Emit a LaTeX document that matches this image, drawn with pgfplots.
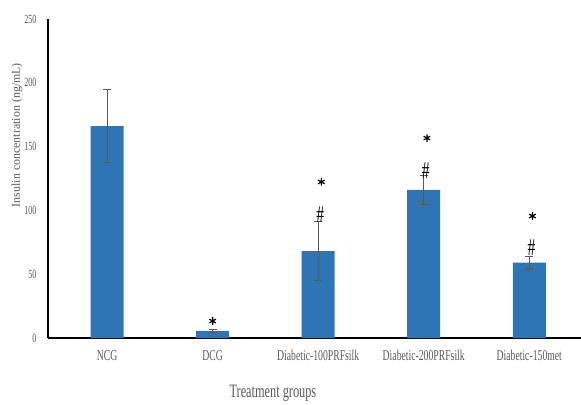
\documentclass[border=0pt]{standalone}
\usepackage{fontspec}
\setmainfont{Liberation Serif}
\newfontfamily\cond[FakeStretch=0.65]{Liberation Serif}
\usepackage{pgfplots}
\pgfplotsset{compat=1.18}
\definecolor{barblue}{HTML}{2E75B6}
\definecolor{tickgray}{HTML}{595959}
\begin{document}
\begin{tikzpicture}
\begin{axis}[
 name=ax,
 scale only axis, width=533bp, height=319bp,
 xmin=-0.56, xmax=4.49, ymin=0, ymax=250,
 axis x line=bottom, axis y line=left,
 axis line style={line width=1.3bp, -, black},
 ytick={0,50,...,250},
 xtick={0,...,4},
 xticklabels={NCG,DCG,Diabetic-100PRFsilk,Diabetic-200PRFsilk,Diabetic-150met},
 major tick length=0pt,
 /pgf/number format/assume math mode=true,
 yticklabel style={font=\cond\fontsize{12.5}{13}\selectfont, text=tickgray, xshift=-8bp},
 xticklabel style={font=\cond\fontsize{15}{16}\selectfont, text=tickgray, anchor=base, yshift=-22bp},
 ylabel={Insulin concentration (ng/mL)},
 ylabel style={at={(axis description cs:-0.058,0.636)}, anchor=center, font=\fontsize{12}{13}\selectfont, text=tickgray},
 xlabel={Treatment groups},
 xlabel style={at={(axis description cs:0.422,-0.175)}, anchor=center, font=\cond\fontsize{19}{20}\selectfont, text=tickgray},
 clip=false,
]
\addplot[ybar, bar width=33bp, fill=barblue, draw=none,
  error bars/.cd, y dir=both, y explicit,
  error bar style={line width=1.2bp, color=tickgray},
  error mark options={rotate=90, mark size=4bp, line width=1.2bp, color=tickgray}]
 coordinates {(0,166) +- (0,28.5) (1,5.5) +- (0,1) (2,68) +- (0,23) (3,116) +- (0,11.5) (4,59) +- (0,5)};
\addplot[only marks, mark=asterisk, mark size=3.8bp, mark options={line width=1.2bp, black}]
 coordinates {(1.0,13.3) (2.03,122.3) (3.03,156.7) (4.03,95.6)};
\addplot[draw=none, mark=none, nodes near coords={\#},
  every node near coord/.append style={anchor=center, inner sep=0pt, font=\cond\fontsize{24}{24}\selectfont, text=black}]
 coordinates {(2.02,96.4) (3.02,131) (4.02,70.5)};
\end{axis}
\pgfresetboundingbox
\path[use as bounding box] ([xshift=-48bp,yshift=-67bp]ax.south west) rectangle ([yshift=19bp]ax.north east);
\end{tikzpicture}
\end{document}
